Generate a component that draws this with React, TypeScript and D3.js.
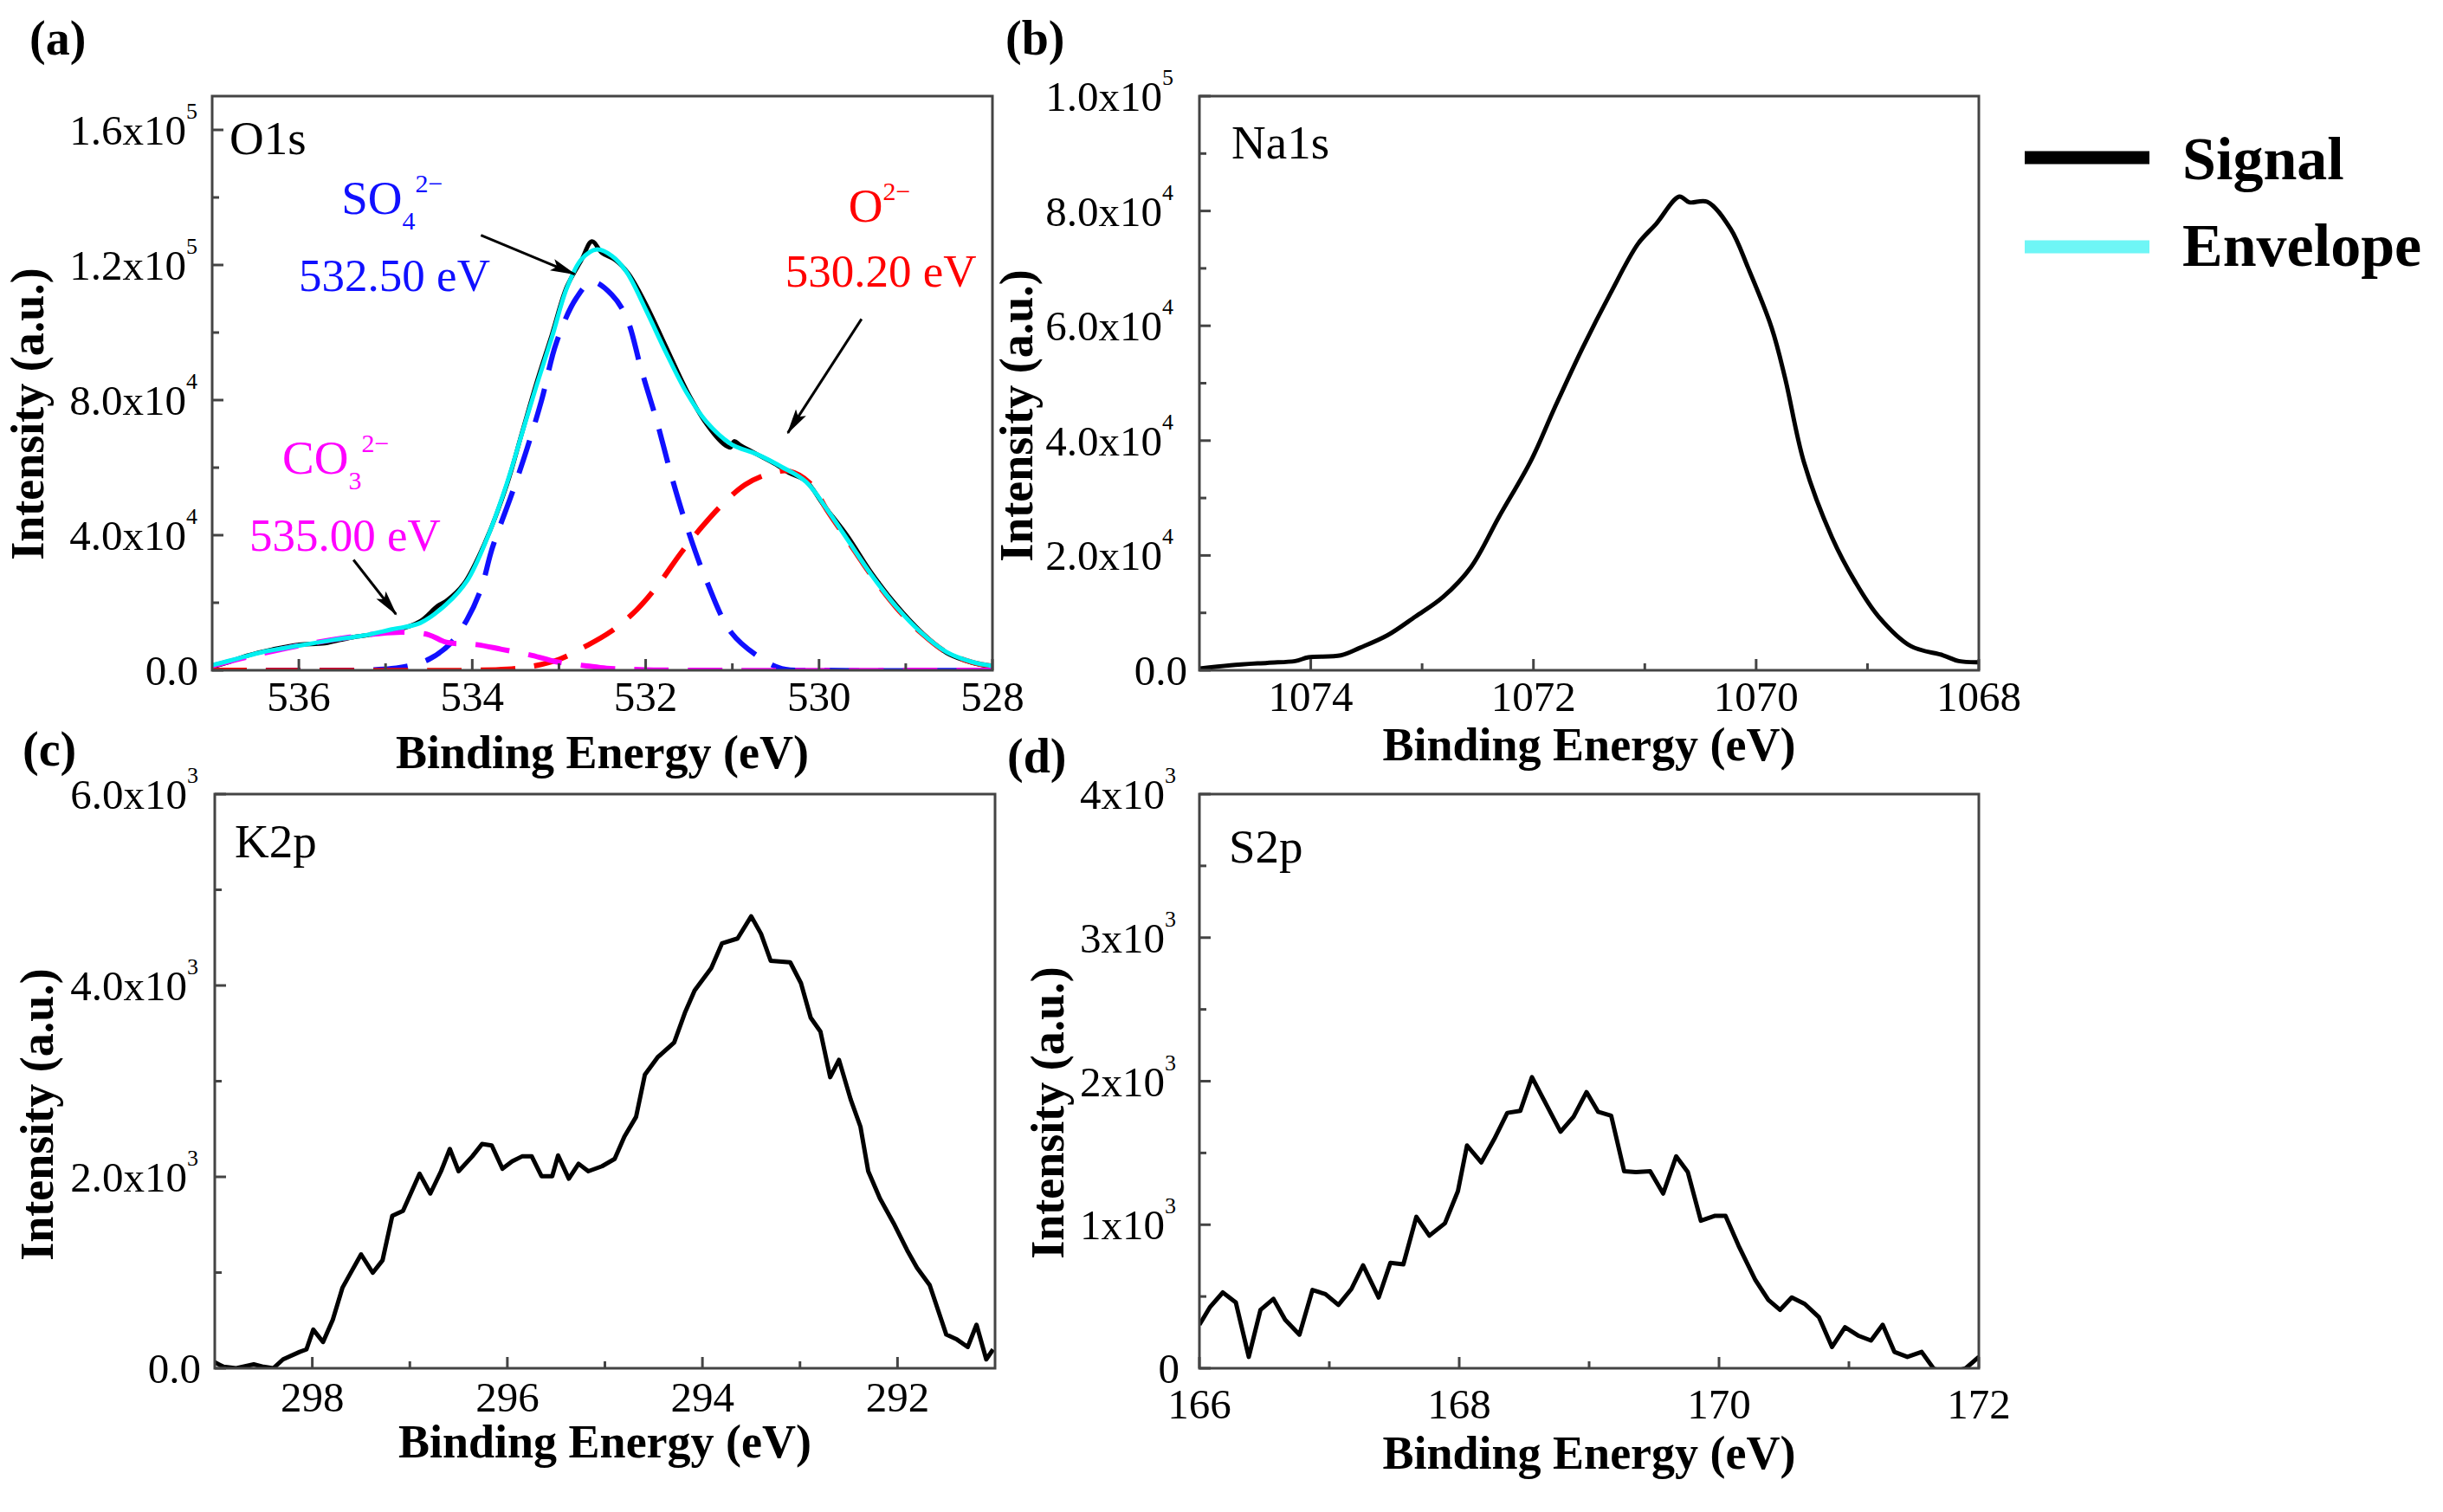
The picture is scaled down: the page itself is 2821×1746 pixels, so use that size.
import * as d3 from 'd3';

// ---- data (binding energy eV, counts) ----
const o1sSignal: [number, number][] = [
  [537.0, 1000], [536.8, 2500], [536.6, 4300], [536.3, 6200], [536.0, 7600], [535.7, 8000],
  [535.4, 9700], [535.1, 10800], [534.85, 12000], [534.6, 14500], [534.4, 19000], [534.3, 20500],
  [534.1, 25500], [533.85, 38000], [533.6, 55000], [533.43, 70000], [533.26, 85000], [533.08, 99500],
  [532.91, 113500], [532.74, 121500], [532.62, 127000], [532.5, 123500], [532.35, 121500], [532.2, 117500],
  [532.0, 108500], [531.76, 95500], [531.53, 83000], [531.3, 73000], [531.1, 67000], [531.02, 66000],
  [530.98, 67800], [530.9, 66500], [530.72, 64000], [530.5, 61000], [530.35, 58500], [530.15, 56000],
  [529.95, 49000], [529.68, 40000], [529.4, 29000], [529.11, 19300], [528.82, 11300], [528.53, 5200],
  [528.24, 2300], [528.0, 1000],
];

const o1sEnvelope: [number, number][] = [
  [537.0, 1500], [536.7, 3500], [536.4, 5500], [536.0, 7300], [535.6, 9000], [535.25, 10300],
  [534.93, 12100], [534.6, 14000], [534.3, 19500], [534.06, 26500], [533.83, 39000], [533.6, 55400],
  [533.43, 69800], [533.26, 84200], [533.08, 98700], [532.91, 113100], [532.74, 121700], [532.56, 124600],
  [532.39, 122700], [532.22, 117900], [531.99, 106300], [531.76, 93800], [531.53, 82300], [531.3, 73600],
  [531.01, 66900], [530.72, 64000], [530.43, 60200], [530.15, 55800], [529.91, 47700], [529.68, 39000],
  [529.4, 28400], [529.11, 18800], [528.82, 11100], [528.53, 5400], [528.24, 2500], [528.0, 1300],
];

const o1sSulfate: [number, number][] = [
  [537.0, 0], [535.6, 0], [535.2, 100], [534.93, 500], [534.7, 1500], [534.49, 3400], [534.25, 8000],
  [534.06, 15000], [533.9, 24000], [533.77, 36100], [533.54, 52500], [533.37, 65500], [533.2, 80000],
  [533.03, 97000], [532.8, 110200], [532.62, 115000], [532.39, 111200], [532.22, 104400], [532.05, 89000],
  [531.87, 73600], [531.7, 57300], [531.53, 42900], [531.3, 26600], [531.01, 11100], [530.66, 3400],
  [530.43, 500], [530.0, 0], [528.0, 0],
];

const o1sOxide: [number, number][] = [
  [537.0, 0], [534.0, 0], [533.6, 300], [533.3, 1200], [533.0, 3200], [532.7, 7000], [532.4, 11500],
  [532.1, 18000], [531.85, 25500], [531.6, 34500], [531.35, 42500], [531.1, 49500], [530.85, 55000],
  [530.6, 58000], [530.35, 59000], [530.1, 55300], [529.91, 47500], [529.68, 38800], [529.4, 28200],
  [529.11, 18600], [528.82, 11000], [528.53, 5300], [528.24, 2400], [528.0, 1200],
];

const o1sCarbonate: [number, number][] = [
  [537.0, 1300], [536.5, 4500], [536.0, 7300], [535.5, 9500], [535.1, 10800], [534.8, 11300],
  [534.5, 10500], [534.3, 8300], [533.95, 7600], [533.66, 6200], [533.31, 4400], [533.03, 2500],
  [532.68, 1300], [532.45, 600], [532.0, 150], [531.5, 0], [528.0, 0],
];

const na1sSignal: [number, number][] = [
  [1075.0, 300], [1074.72, 870], [1074.39, 1300], [1074.14, 1600], [1074.02, 2250], [1073.73, 2600],
  [1073.56, 3900], [1073.31, 6100], [1073.06, 9350], [1072.81, 12800], [1072.56, 18000], [1072.31, 26700],
  [1072.02, 36600], [1071.81, 45700], [1071.56, 56100], [1071.31, 65600], [1071.06, 74300], [1070.9, 77700],
  [1070.69, 82500], [1070.6, 81500], [1070.44, 81600], [1070.23, 76900], [1070.07, 70000], [1069.86, 59600],
  [1069.74, 50900], [1069.57, 36200], [1069.32, 23200], [1069.11, 15400], [1068.9, 9350], [1068.61, 4200],
  [1068.32, 2600], [1068.18, 1600], [1068.0, 1400],
];

const k2pSignal: [number, number][] = [
  [299.01, 67], [298.91, 15], [298.78, 0], [298.6, 41], [298.5, 15], [298.4, 0], [298.3, 93],
  [298.13, 171], [298.06, 197], [297.99, 404], [297.89, 274], [297.79, 507], [297.69, 843], [297.62, 972],
  [297.5, 1190], [297.38, 998], [297.28, 1128], [297.18, 1593], [297.07, 1645], [296.9, 2033], [296.79, 1826],
  [296.68, 2059], [296.59, 2292], [296.5, 2059], [296.36, 2214], [296.26, 2343], [296.16, 2328], [296.05, 2085],
  [295.95, 2162], [295.85, 2214], [295.75, 2214], [295.65, 2007], [295.54, 2007], [295.48, 2224], [295.37, 1981],
  [295.27, 2137], [295.17, 2059], [295.03, 2111], [294.9, 2188], [294.8, 2421], [294.68, 2628], [294.59, 3068],
  [294.46, 3249], [294.29, 3404], [294.18, 3714], [294.08, 3947], [293.91, 4180], [293.8, 4439], [293.64, 4491],
  [293.5, 4723], [293.4, 4542], [293.3, 4258], [293.1, 4242], [292.99, 4025], [292.89, 3663], [292.79, 3518],
  [292.69, 3042], [292.6, 3223], [292.48, 2809], [292.38, 2525], [292.3, 2059], [292.18, 1774], [292.04, 1516],
  [291.9, 1231], [291.8, 1050], [291.67, 869], [291.5, 352], [291.39, 300], [291.28, 222], [291.19, 455],
  [291.09, 93], [291.02, 197],
];

const s2pSignal: [number, number][] = [
  [166.0, 303], [166.08, 424], [166.18, 528], [166.28, 459], [166.38, 79], [166.47, 407], [166.57, 483],
  [166.66, 338], [166.77, 234], [166.87, 545], [166.97, 517], [167.07, 441], [167.17, 552], [167.26, 717],
  [167.38, 493], [167.47, 734], [167.57, 724], [167.67, 1055], [167.77, 924], [167.89, 1010], [167.99, 1234],
  [168.06, 1552], [168.17, 1434], [168.27, 1597], [168.37, 1779], [168.47, 1793], [168.56, 2028], [168.67, 1838],
  [168.78, 1648], [168.88, 1752], [168.98, 1924], [169.07, 1786], [169.17, 1759], [169.27, 1372], [169.36, 1366],
  [169.47, 1372], [169.57, 1217], [169.67, 1476], [169.76, 1366], [169.86, 1028], [169.97, 1062], [170.05, 1062],
  [170.15, 855], [170.28, 614], [170.38, 476], [170.47, 407], [170.56, 493], [170.66, 448], [170.77, 355],
  [170.87, 148], [170.97, 286], [171.07, 228], [171.17, 193], [171.26, 303], [171.35, 114], [171.45, 79],
  [171.56, 114], [171.65, 0], [171.75, -40], [171.9, 0], [172.0, 79],
];

// annotation anchors in data units (eV, counts)
const o1sArrows = [
  { from: [533.9, 128800], to: [532.82, 117300] },
  { from: [529.51, 104000], to: [530.36, 70300] },
  { from: [535.37, 32700], to: [534.88, 16600] },
];
const o1sPeakLabels = [
  { ion: 'SO', sub: '4', sup: '2−', at: [535.51, 135200], value: '532.50 eV', valueAt: [536.0, 112200], color: '#1010ff' },
  { ion: 'O', sub: '', sup: '2−', at: [529.66, 132900], value: '530.20 eV', valueAt: [530.39, 113500], color: '#ff0000' },
  { ion: 'CO', sub: '3', sup: '2−', at: [536.19, 58300], value: '535.00 eV', valueAt: [536.57, 35300], color: '#ff00ff' },
];

const legendItems = [
  { label: 'Signal', color: '#000000' },
  { label: 'Envelope', color: '#6ef6f6' },
];

const FONT = '"Liberation Serif", "Times New Roman", serif';
const AXIS = '#444';

type PanelCfg = {
  id: string; left: number; top: number; right: number; bottom: number;
  xDomain: [number, number]; yDomain: [number, number];
  xMajor: number[]; xMinor: number[]; yMajor: number[]; yMinor: number[];
  digits: number; gap: number; zeroGap: number;
  xLabelDy: number; xTitleDy: number; yTitleX: number; yTitleY: number;
  name: string; nameDx: number; nameDy: number; tag: string; tagX: number; tagY: number;
};

const panels: PanelCfg[] = [
  {
    id: 'a', left: 245, top: 111, right: 1146, bottom: 774, xDomain: [537, 528], yDomain: [0, 170000],
    xMajor: [536, 534, 532, 530, 528], xMinor: [535, 533, 531, 529],
    yMajor: [0, 40000, 80000, 120000, 160000], yMinor: [20000, 60000, 100000, 140000],
    digits: 1, gap: 17, zeroGap: 16, xLabelDy: 47, xTitleDy: 113, yTitleX: 50, yTitleY: 478,
    name: 'O1s', nameDx: 20, nameDy: 67, tag: '(a)', tagX: 34, tagY: 63,
  },
  {
    id: 'b', left: 1385, top: 111, right: 2285, bottom: 774, xDomain: [1075, 1068], yDomain: [0, 100000],
    xMajor: [1074, 1072, 1070, 1068], xMinor: [1073, 1071, 1069],
    yMajor: [0, 20000, 40000, 60000, 80000, 100000], yMinor: [10000, 30000, 50000, 70000, 90000],
    digits: 1, gap: 30, zeroGap: 14, xLabelDy: 47, xTitleDy: 104, yTitleX: 1192, yTitleY: 480,
    name: 'Na1s', nameDx: 37, nameDy: 72, tag: '(b)', tagX: 1161, tagY: 63,
  },
  {
    id: 'c', left: 248, top: 917, right: 1149, bottom: 1580, xDomain: [299, 291], yDomain: [0, 6000],
    xMajor: [298, 296, 294, 292], xMinor: [297, 295, 293],
    yMajor: [0, 2000, 4000, 6000], yMinor: [1000, 3000, 5000],
    digits: 1, gap: 19, zeroGap: 16, xLabelDy: 50, xTitleDy: 103, yTitleX: 61, yTitleY: 1287,
    name: 'K2p', nameDx: 23, nameDy: 73, tag: '(c)', tagX: 26, tagY: 884,
  },
  {
    id: 'd', left: 1385, top: 917, right: 2285, bottom: 1580, xDomain: [166, 172], yDomain: [0, 4000],
    xMajor: [166, 168, 170, 172], xMinor: [167, 169, 171],
    yMajor: [0, 1000, 2000, 3000, 4000], yMinor: [500, 1500, 2500, 3500],
    digits: 0, gap: 27, zeroGap: 23, xLabelDy: 58, xTitleDy: 116, yTitleX: 1228, yTitleY: 1285,
    name: 'S2p', nameDx: 34, nameDy: 79, tag: '(d)', tagX: 1163, tagY: 892,
  },
];

function sciParts(v: number, digits: number) {
  if (v === 0) return { mant: (0).toFixed(digits), exp: null as number | null };
  const e = Math.floor(Math.log10(v) + 1e-9);
  return { mant: (v / 10 ** e).toFixed(digits), exp: e };
}

type Scales = { x: d3.ScaleLinear<number, number>; y: d3.ScaleLinear<number, number> };

function Panel({ cfg, children }: { cfg: PanelCfg; children: (s: Scales) => any }) {
  const x = d3.scaleLinear().domain(cfg.xDomain).range([cfg.left, cfg.right]);
  const y = d3.scaleLinear().domain(cfg.yDomain).range([cfg.bottom, cfg.top]);
  const cx = (cfg.left + cfg.right) / 2;
  return (
    <g>
      <defs>
        <clipPath id={`clip-${cfg.id}`}>
          <rect x={cfg.left} y={cfg.top} width={cfg.right - cfg.left} height={cfg.bottom - cfg.top} />
        </clipPath>
      </defs>
      <g clipPath={`url(#clip-${cfg.id})`}>{children({ x, y })}</g>
      <rect x={cfg.left} y={cfg.top} width={cfg.right - cfg.left} height={cfg.bottom - cfg.top}
        fill="none" stroke={AXIS} strokeWidth={3} />
      {cfg.xMajor.map(v => (
        <line key={`xM${v}`} x1={x(v)} x2={x(v)} y1={cfg.bottom} y2={cfg.bottom - 13} stroke={AXIS} strokeWidth={3} />
      ))}
      {cfg.xMinor.map(v => (
        <line key={`xm${v}`} x1={x(v)} x2={x(v)} y1={cfg.bottom} y2={cfg.bottom - 8} stroke={AXIS} strokeWidth={3} />
      ))}
      {cfg.yMajor.map(v => (
        <line key={`yM${v}`} x1={cfg.left} x2={cfg.left + 13} y1={y(v)} y2={y(v)} stroke={AXIS} strokeWidth={3} />
      ))}
      {cfg.yMinor.map(v => (
        <line key={`ym${v}`} x1={cfg.left} x2={cfg.left + 8} y1={y(v)} y2={y(v)} stroke={AXIS} strokeWidth={3} />
      ))}
      {cfg.xMajor.map(v => (
        <text key={`xl${v}`} x={x(v)} y={cfg.bottom + cfg.xLabelDy} textAnchor="middle" fontSize={49}>{v}</text>
      ))}
      {cfg.yMajor.map(v => {
        const p = sciParts(v, cfg.digits);
        return (
          <text key={`yl${v}`} x={cfg.left - (p.exp === null ? cfg.zeroGap : cfg.gap)} y={y(v) + 17}
            textAnchor="end" fontSize={49}>
            {p.exp === null ? p.mant : `${p.mant}x10`}
            {p.exp !== null && <tspan dy={-30} fontSize={26}>{p.exp}</tspan>}
          </text>
        );
      })}
      <text x={cx} y={cfg.bottom + cfg.xTitleDy} textAnchor="middle" fontSize={54} fontWeight="bold">
        Binding Energy (eV)
      </text>
      <text transform={`translate(${cfg.yTitleX},${cfg.yTitleY}) rotate(-90)`} textAnchor="middle"
        fontSize={54} fontWeight="bold">Intensity (a.u.)</text>
      <text x={cfg.left + cfg.nameDx} y={cfg.top + cfg.nameDy} fontSize={55}>{cfg.name}</text>
      <text x={cfg.tagX} y={cfg.tagY} fontSize={56} fontWeight="bold">{cfg.tag}</text>
    </g>
  );
}

function pathOf(s: Scales, data: [number, number][], curve: d3.CurveFactory) {
  return d3.line<[number, number]>().x(d => s.x(d[0])).y(d => s.y(d[1])).curve(curve)(data) || '';
}

export default function App() {
  const W = 2821;
  const H = 1746;
  const [pa, pb, pc, pd] = panels;
  const xa = d3.scaleLinear().domain(pa.xDomain).range([pa.left, pa.right]);
  const ya = d3.scaleLinear().domain(pa.yDomain).range([pa.bottom, pa.top]);

  return (
    <svg width={W} height={H} viewBox={`0 0 ${W} ${H}`}
      style={{ position: 'absolute', left: 0, top: 0, background: '#fff' }}
      fontFamily={FONT} fill="#000">
      <defs>
        <marker id="arrowHead" markerUnits="userSpaceOnUse" markerWidth={30} markerHeight={16}
          refX={28} refY={8} orient="auto">
          <path d="M0,1 L30,8 L0,15 L6,8 Z" fill="#000" />
        </marker>
      </defs>
      <rect x={0} y={0} width={W} height={H} fill="#fff" />

      <Panel cfg={pa}>
        {s => (
          <g fill="none">
            <path d={pathOf(s, o1sSignal, d3.curveCatmullRom)} stroke="#000" strokeWidth={5} />
            <path d={pathOf(s, o1sSulfate, d3.curveCatmullRom)} stroke="#1010ff" strokeWidth={6} strokeDasharray="40 22" />
            <path d={pathOf(s, o1sOxide, d3.curveCatmullRom)} stroke="#ff0000" strokeWidth={6} strokeDasharray="40 22" />
            <path d={pathOf(s, o1sCarbonate, d3.curveCatmullRom)} stroke="#ff00ff" strokeWidth={6} strokeDasharray="40 22" />
            <path d={pathOf(s, o1sEnvelope, d3.curveCatmullRom)} stroke="#00f0f0" strokeWidth={5} />
          </g>
        )}
      </Panel>
      <Panel cfg={pb}>
        {s => <path d={pathOf(s, na1sSignal, d3.curveCatmullRom)} fill="none" stroke="#000" strokeWidth={5} />}
      </Panel>
      <Panel cfg={pc}>
        {s => <path d={pathOf(s, k2pSignal, d3.curveLinear)} fill="none" stroke="#000" strokeWidth={5} strokeLinejoin="round" />}
      </Panel>
      <Panel cfg={pd}>
        {s => <path d={pathOf(s, s2pSignal, d3.curveLinear)} fill="none" stroke="#000" strokeWidth={5} strokeLinejoin="round" />}
      </Panel>

      {/* O1s peak annotations */}
      {o1sArrows.map((a, i) => (
        <line key={`ar${i}`} x1={xa(a.from[0])} y1={ya(a.from[1])} x2={xa(a.to[0])} y2={ya(a.to[1])}
          stroke="#000" strokeWidth={3} markerEnd="url(#arrowHead)" />
      ))}
      {o1sPeakLabels.map(p => (
        <g key={p.value} fill={p.color}>
          <text x={xa(p.at[0])} y={ya(p.at[1])} fontSize={55}>
            {p.ion}
            {p.sub && <tspan dy={18} fontSize={30}>{p.sub}</tspan>}
            <tspan dy={p.sub ? -43 : -25} fontSize={30}>{p.sup}</tspan>
          </text>
          <text x={xa(p.valueAt[0])} y={ya(p.valueAt[1])} fontSize={53}>{p.value}</text>
        </g>
      ))}

      {/* legend */}
      {legendItems.map((it, i) => (
        <g key={it.label}>
          <line x1={2338} x2={2482} y1={182 + i * 103} y2={182 + i * 103} stroke={it.color} strokeWidth={15} />
          <text x={2520} y={207 + i * 100} fontSize={70} fontWeight="bold">{it.label}</text>
        </g>
      ))}
    </svg>
  );
}
